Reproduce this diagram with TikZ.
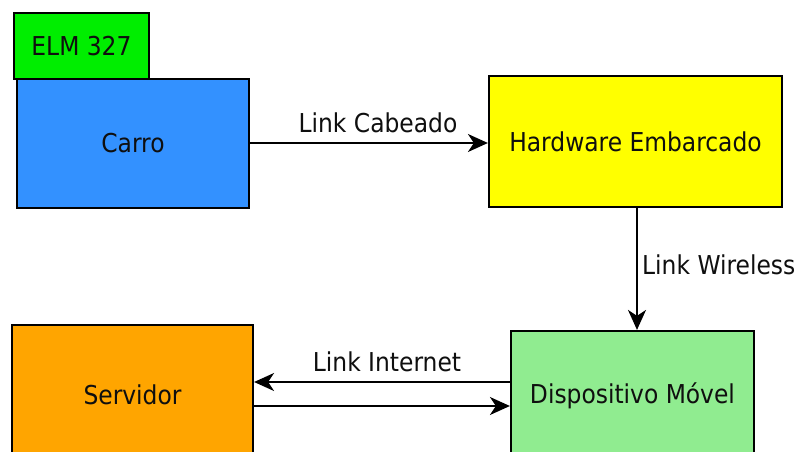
\documentclass[tikz,border=0pt]{standalone}
\usepackage{fontspec}
\setmainfont{DejaVu Sans Condensed}
\usetikzlibrary{arrows.meta}
\definecolor{elmgreen}{RGB}{0,238,0}
\definecolor{carblue}{RGB}{51,145,255}
\definecolor{hwyellow}{RGB}{255,255,0}
\definecolor{srvorange}{RGB}{255,165,0}
\definecolor{devgreen}{RGB}{144,236,144}
\definecolor{txt}{RGB}{15,15,15}
\begin{document}
\begin{tikzpicture}[x=1pt,y=-1pt,
  box/.style={draw=black,line width=2.2pt,rectangle,inner sep=0pt,text=txt,font=\fontsize{26}{30}\selectfont},
  conn/.style={line width=2pt,-{Stealth[length=20pt,width=18pt,inset=6pt]}},
  lbl/.style={text=txt,font=\fontsize{26}{30}\selectfont,inner sep=0pt}]
\useasboundingbox (0,0) rectangle (803,452);
\clip (0,0) rectangle (803,452);
\fill[white] (0,0) rectangle (803,452);
\node[box,fill=carblue,minimum width=232pt,minimum height=129pt] (carro) at (133,143.5) {Carro};
\node[box,fill=elmgreen,minimum width=135pt,minimum height=66pt] (elm) at (81.5,46) {ELM 327};
\node[box,fill=hwyellow,minimum width=293pt,minimum height=131pt] (hw) at (635.5,141.5) {Hardware Embarcado};
\node[box,fill=srvorange,minimum width=241pt,minimum height=140pt] (srv) at (132.5,395) {Servidor};
\node[box,fill=devgreen,minimum width=243pt,minimum height=130pt] (dev) at (632.5,396) {Dispositivo Móvel};
\coordinate (hwout) at (637,207);
\draw[conn] (carro.east |- 0,143) -- (hw.west |- 0,143);
\draw[conn] (hw.south -| hwout) -- (dev.north -| hwout);
\draw[conn] (dev.west |- 0,382) -- (srv.east |- 0,382);
\draw[conn] (srv.east |- 0,406) -- (dev.west |- 0,406);
\node[lbl] (lc) at (378,123) {Link Cabeado};
\node[lbl,anchor=west] (lw) at (642,265) {Link Wireless};
\node[lbl] (li) at (387,362) {Link Internet};
\end{tikzpicture}
\end{document}
